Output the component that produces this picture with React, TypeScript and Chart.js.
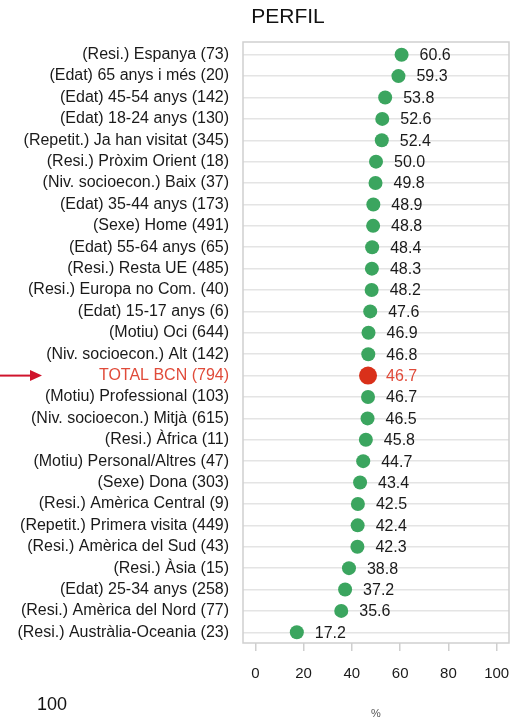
import React, { useEffect, useRef } from "react";
import { Chart, registerables } from "chart.js";

Chart.register(...registerables);

const categories: string[] = [
  "(Resi.) Espanya (73)",
  "(Edat) 65 anys i més (20)",
  "(Edat) 45-54 anys (142)",
  "(Edat) 18-24 anys (130)",
  "(Repetit.) Ja han visitat (345)",
  "(Resi.) Pròxim Orient (18)",
  "(Niv. socioecon.) Baix (37)",
  "(Edat) 35-44 anys (173)",
  "(Sexe) Home (491)",
  "(Edat) 55-64 anys (65)",
  "(Resi.) Resta UE (485)",
  "(Resi.) Europa no Com. (40)",
  "(Edat) 15-17 anys (6)",
  "(Motiu) Oci (644)",
  "(Niv. socioecon.) Alt (142)",
  "TOTAL BCN (794)",
  "(Motiu) Professional (103)",
  "(Niv. socioecon.) Mitjà (615)",
  "(Resi.) Àfrica (11)",
  "(Motiu) Personal/Altres (47)",
  "(Sexe) Dona (303)",
  "(Resi.) Amèrica Central (9)",
  "(Repetit.) Primera visita (449)",
  "(Resi.) Amèrica del Sud (43)",
  "(Resi.) Àsia (15)",
  "(Edat) 25-34 anys (258)",
  "(Resi.) Amèrica del Nord (77)",
  "(Resi.) Austràlia-Oceania (23)",
];

const values: number[] = [
  60.6, 59.3, 53.8, 52.6, 52.4, 50.0, 49.8, 48.9, 48.8, 48.4, 48.3, 48.2, 47.6,
  46.9, 46.8, 46.7, 46.7, 46.5, 45.8, 44.7, 43.4, 42.5, 42.4, 42.3, 38.8, 37.2,
  35.6, 17.2,
];

const totalLabel = "TOTAL BCN (794)";
const xTicks: number[] = [0, 20, 40, 60, 80, 100];
const titleText = "PERFIL";
const axisTitle = "%";
const strayText = "100";

const FONT = "'Liberation Sans', Arial, sans-serif";
const GREEN = "#3ba55f";
const RED_POINT = "#d9301a";
const RED_TEXT = "#e04b3a";
const ARROW = "#d0142c";

export default function App() {
  const ref = useRef<HTMLCanvasElement | null>(null);

  useEffect(() => {
    if (!ref.current) return;
    const isTotal = (i: number) => categories[i] === totalLabel;

    const overlay = {
      id: "overlay",
      beforeDatasetsDraw(chart: any) {
        const { ctx, chartArea } = chart;
        ctx.save();
        ctx.strokeStyle = "#cfcfcf";
        ctx.lineWidth = 1.5;
        ctx.strokeRect(
          chartArea.left,
          chartArea.top - 2,
          chartArea.right - chartArea.left,
          chartArea.bottom - chartArea.top + 2
        );
        ctx.restore();
      },
      afterDatasetsDraw(chart: any) {
        const { ctx, chartArea } = chart;
        const meta = chart.getDatasetMeta(0);
        ctx.save();
        ctx.font = `16px ${FONT}`;
        ctx.textAlign = "left";
        ctx.textBaseline = "middle";
        meta.data.forEach((pt: any, i: number) => {
          ctx.fillStyle = isTotal(i) ? RED_TEXT : "#1a1a1a";
          ctx.fillText(values[i].toFixed(1), pt.x + 18, pt.y + 1);
        });
        // title
        ctx.fillStyle = "#111";
        ctx.font = `21px ${FONT}`;
        ctx.textAlign = "center";
        ctx.fillText(titleText, 288, 17);
        // axis unit
        ctx.font = `11px ${FONT}`;
        ctx.fillStyle = "#555";
        ctx.fillText(axisTitle, (chartArea.left + chartArea.right) / 2, 714);
        // stray text
        ctx.font = `18px ${FONT}`;
        ctx.fillStyle = "#111";
        ctx.fillText(strayText, 52, 705);
        // arrow to total row
        const ti = categories.indexOf(totalLabel);
        const y = chart.scales.y.getPixelForValue(ti);
        ctx.strokeStyle = ARROW;
        ctx.fillStyle = ARROW;
        ctx.lineWidth = 2;
        ctx.beginPath();
        ctx.moveTo(0, y);
        ctx.lineTo(32, y);
        ctx.stroke();
        ctx.beginPath();
        ctx.moveTo(42, y);
        ctx.lineTo(30, y - 5.5);
        ctx.lineTo(30, y + 5.5);
        ctx.closePath();
        ctx.fill();
        ctx.restore();
      },
    };

    const chart = new Chart(ref.current, {
      type: "line",
      data: {
        labels: categories,
        datasets: [
          {
            data: values,
            showLine: false,
            pointRadius: values.map((_, i) => (isTotal(i) ? 9 : 7)),
            pointHoverRadius: values.map((_, i) => (isTotal(i) ? 9 : 7)),
            pointBackgroundColor: values.map((_, i) =>
              isTotal(i) ? RED_POINT : GREEN
            ),
            pointBorderWidth: 0,
            borderWidth: 0,
          },
        ],
      },
      options: {
        indexAxis: "y",
        animation: false,
        responsive: false,
        maintainAspectRatio: false,
        layout: { padding: { top: 44, right: 10, left: 0, bottom: 0 } },
        plugins: {
          legend: { display: false },
          tooltip: { enabled: false },
          title: { display: false },
        },
        scales: {
          y: {
            type: "category",
            offset: true,
            grid: {
              offset: false,
              color: "#e4e4e4",
              lineWidth: 1.5,
              drawTicks: false,
            },
            border: { display: false },
            ticks: {
              padding: 14,
              autoSkip: false,
              font: { family: FONT, size: 16 },
              color: (c: any) => (isTotal(c.index) ? RED_TEXT : "#1a1a1a"),
            },
            afterFit(scale: any) {
              scale.width = 243;
              scale.paddingTop = 0;
              scale.paddingBottom = 0;
            },
          },
          x: {
            type: "linear",
            min: -5.1,
            max: 105.1,
            afterBuildTicks(scale: any) {
              scale.ticks = xTicks.map((v) => ({ value: v }));
            },
            grid: {
              drawOnChartArea: false,
              drawTicks: true,
              tickLength: 8,
              color: "#cfcfcf",
              lineWidth: 1.5,
            },
            border: { display: false },
            ticks: {
              padding: 14,
              font: { family: FONT, size: 15 },
              color: "#1a1a1a",
              maxRotation: 0,
            },
            afterFit(scale: any) {
              scale.height = 76;
              scale.paddingLeft = 0;
              scale.paddingRight = 0;
            },
          },
        },
      },
      plugins: [overlay],
    } as any);

    return () => chart.destroy();
  }, []);

  return (
    <div
      style={{
        position: "fixed",
        left: 0,
        top: 0,
        width: 519,
        height: 719,
        background: "#fff",
      }}
    >
      <canvas ref={ref} width={519} height={719} style={{ width: 519, height: 719 }} />
    </div>
  );
}
